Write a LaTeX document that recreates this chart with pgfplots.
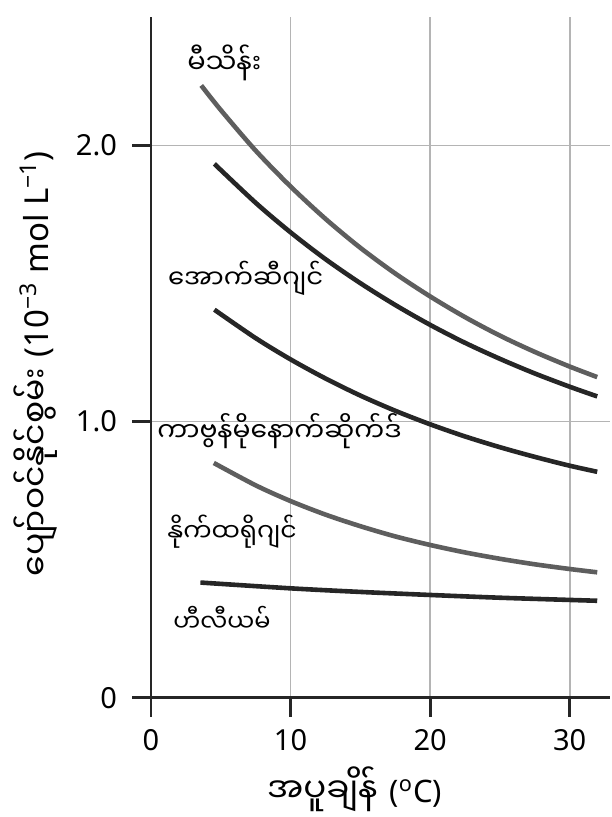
\documentclass[border=0pt]{standalone}
\usepackage{fontspec}
\setmainfont{Noto Sans}
\newfontfamily\mm[Script=Myanmar]{Noto Sans Myanmar UI}
\usepackage{pgfplots}
\pgfplotsset{compat=1.18}
\definecolor{dk}{HTML}{262626}
\definecolor{md}{HTML}{5E5E5E}
\definecolor{gr}{HTML}{B4B4B4}
\begin{document}
\begin{tikzpicture}
\path[use as bounding box] (-75.5pt,-59.65pt) rectangle (230pt,348.85pt);
\begin{axis}[
  scale only axis,
  width=229.6pt, height=340.5pt,
  xmin=0, xmax=32.9, ymin=0, ymax=2.466,
  axis lines*=left,
  axis line style={dk, line width=1.4pt},
  xtick={0,10,20,30}, xticklabels={0,10,20,30},
  ytick={0,1,2}, yticklabels={0,1.0,2.0},
  tick align=outside,
  major tick length=9.5pt,
  tick style={dk, line width=1.4pt},
  grid=major,
  major grid style={gr, line width=0.8pt},
  ticklabel style={font=\fontsize{14.5}{16}\selectfont, text=black},
  xticklabel style={yshift=-3pt},
  yticklabel style={xshift=-4pt},
  clip=false,
]
% methane
\addplot[md, line width=2.3pt, smooth] coordinates {(3.6,2.217) (5,2.128) (7.5,1.981) (10,1.851) (12.5,1.734) (15,1.629) (17.5,1.536) (20,1.453) (22.5,1.378) (25,1.311) (27.5,1.252) (30,1.199) (31.97,1.161)};
% oxygen
\addplot[dk, line width=2.3pt, smooth] coordinates {(4.54,1.933) (7.5,1.792) (10,1.685) (12.5,1.588) (15,1.501) (17.5,1.422) (20,1.350) (22.5,1.285) (25,1.227) (27.5,1.174) (30,1.126) (31.97,1.091)};
% carbon monoxide
\addplot[dk, line width=2.3pt, smooth] coordinates {(4.54,1.405) (7.5,1.302) (10,1.225) (12.5,1.156) (15,1.094) (17.5,1.039) (20,0.990) (22.5,0.946) (25,0.907) (27.5,0.872) (30,0.840) (31.97,0.818)};
% nitrogen
\addplot[md, line width=2.3pt, smooth] coordinates {(4.5,0.850) (7.5,0.769) (10,0.712) (12.5,0.663) (15,0.621) (17.5,0.584) (20,0.553) (22.5,0.526) (25,0.503) (27.5,0.483) (30,0.466) (31.97,0.454)};
% helium
\addplot[dk, line width=2.3pt, smooth] coordinates {(3.54,0.417) (10,0.396) (15,0.383) (20,0.372) (25,0.362) (30,0.354) (31.97,0.351)};
\node[anchor=base west, inner sep=0pt, font=\mm\fontsize{13.6}{16}\selectfont] at (axis cs:2.58,2.261) {မီသိန်း};
\node[anchor=base west, inner sep=0pt, font=\mm\fontsize{13}{16}\selectfont] at (axis cs:1.19,1.483) {အောက်ဆီဂျင်};
\node[anchor=base west, inner sep=0pt, font=\mm\fontsize{13.3}{16}\selectfont] at (axis cs:0.43,0.927) {ကာဗွန်မိုနောက်ဆိုက်ဒ်};
\node[anchor=base west, inner sep=0pt, font=\mm\fontsize{12.6}{16}\selectfont] at (axis cs:1.15,0.565) {နိုက်ထရိုဂျင်};
\node[anchor=base west, inner sep=0pt, font=\mm\fontsize{12}{16}\selectfont] at (axis cs:1.58,0.239) {ဟီလီယမ်};
\end{axis}
\node[anchor=base, inner sep=0pt, font=\fontsize{15.5}{18}\selectfont] at (101.75pt,-52.2pt) {{\mm\fontsize{17}{20}\selectfont အပူချိန်}\hspace{2pt} (\textsuperscript{o}C)};
\node[rotate=90, inner sep=0pt, font=\fontsize{16.5}{20}\selectfont] at (-57.5pt,167pt) {{\mm\fontsize{16.5}{20}\selectfont ပျော်ဝင်နိုင်စွမ်း}\hspace{1pt} (10\textsuperscript{−3} mol L\textsuperscript{−1})};
\end{tikzpicture}
\end{document}
